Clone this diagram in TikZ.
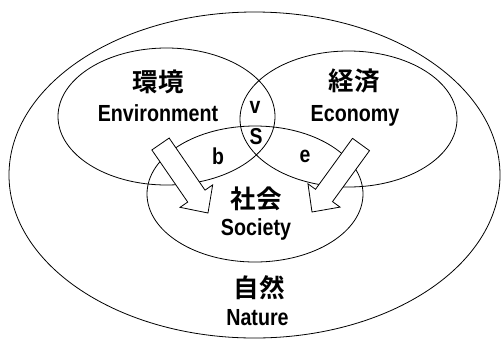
\documentclass[tikz,border=0pt]{standalone}
\usepackage{fontspec}
\setmainfont{Liberation Sans}[UprightFont={* Bold},BoldFont={* Bold},FakeStretch=0.845]
\newfontfamily\cjk{Noto Sans CJK JP Bold}
\usetikzlibrary{shapes.geometric,calc}
\begin{document}
\begin{tikzpicture}[x=1pt,y=-1pt,
  ring/.style={ellipse,draw,line width=0.8pt,inner sep=0pt},
  blockarrow/.style={draw,fill=white,line width=0.8pt,line join=miter},
  jp/.style={font=\cjk\fontsize{25.5pt}{28pt}\selectfont,inner sep=0pt},
  en/.style={font=\fontsize{23.3pt}{26pt}\selectfont,anchor=base,inner sep=0pt},
  small/.style={font=\fontsize{23pt}{26pt}\selectfont,inner sep=0pt}]
\useasboundingbox (0,0) rectangle (503,341);
\node[ring,minimum width=491pt,minimum height=326pt] (nature) at (254.5,175) {};
\node[ring,minimum width=217pt,minimum height=137pt] (env) at (166.5,116.5) {};
\node[ring,minimum width=217pt,minimum height=136pt] (eco) at (348.5,119) {};
\node[ring,minimum width=216pt,minimum height=136pt] (soc) at (255,194) {};
% block arrows
\newcommand{\blockarr}[3]{%
  \coordinate (#3hb) at ($(#1)!0.755!(#2)$);
  \draw[blockarrow] ($(#1)!10.5pt!-90:(#2)$) -- ($(#3hb)!10.5pt!-90:(#2)$)
    -- ($(#3hb)!19.8pt!-90:(#2)$) -- (#2) -- ($(#3hb)!19.8pt!90:(#2)$)
    -- ($(#3hb)!10.5pt!90:(#2)$) -- ($(#1)!10.5pt!90:(#2)$) -- cycle;}
\coordinate (la) at (160.5,144);
\coordinate (lb) at (208,213);
\coordinate (ra) at (361,144.5);
\coordinate (rb) at (312,212);
\blockarr{la}{lb}{L}
\blockarr{ra}{rb}{R}
% labels
\node[jp] (envjp) at (158,81.5) {環境};
\node[en] (enven) at (158,121.7) {Environment};
\node[jp] (ecojp) at (354,81) {経済};
\node[en] (ecoen) at (355,121.5) {Economy};
\node[small] (v) at (255,107) {v};
\node[small] (s) at (256,137) {S};
\node[small] (b) at (218,156) {b};
\node[small] (e) at (305,156) {e};
\node[jp] (socjp) at (256,199) {社会};
\node[en] (socen) at (256,235) {Society};
\node[jp] (natjp) at (259,287.5) {自然};
\node[en] (naten) at (257.5,325) {Nature};
\end{tikzpicture}
\end{document}
